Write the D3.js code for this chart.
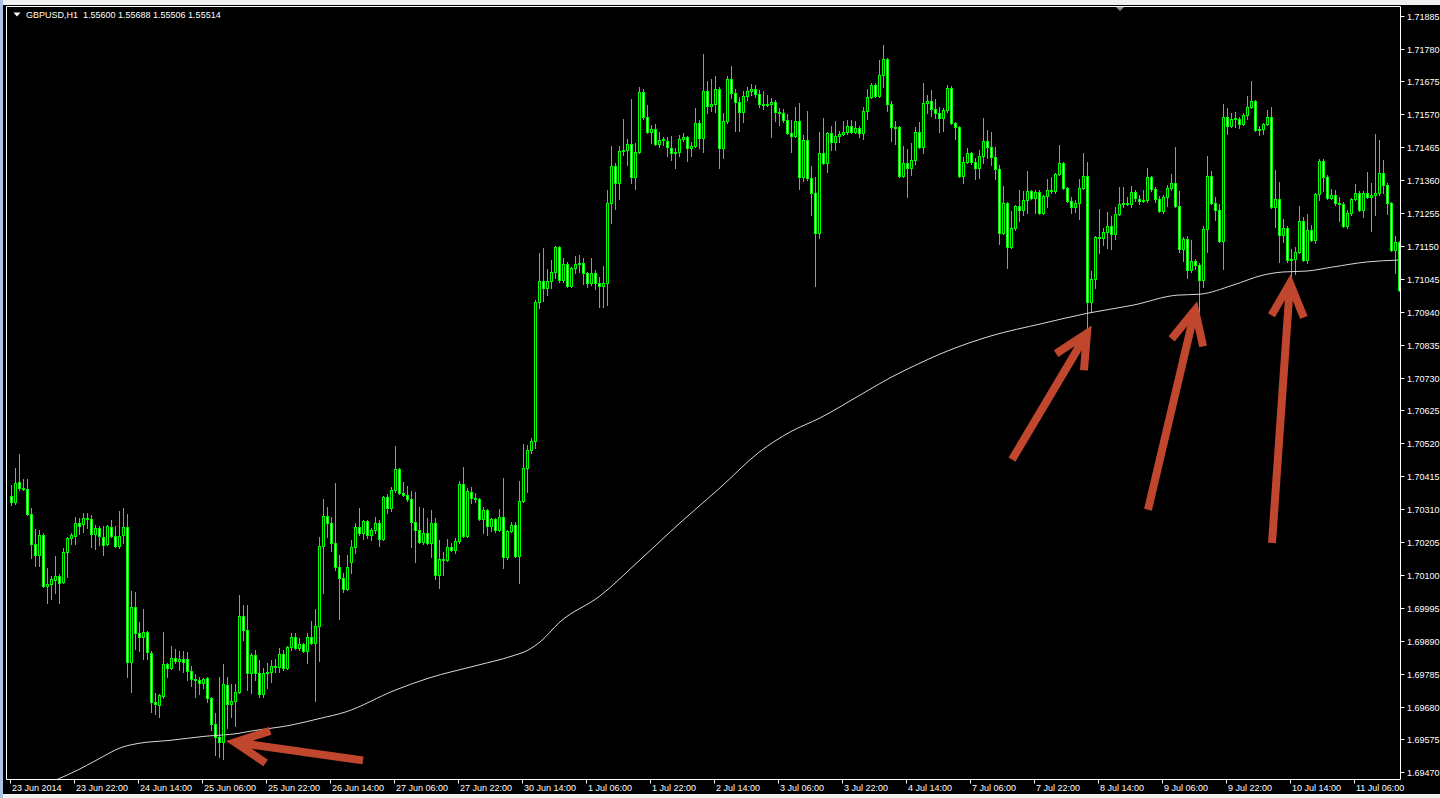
<!DOCTYPE html>
<html><head><meta charset="utf-8">
<script src="https://cdn.jsdelivr.net/npm/d3@7"></script>
<style>
html,body{margin:0;padding:0;background:#f0f0f0;overflow:hidden;}
svg{display:block;}
text{font-family:"Liberation Sans",Arial,sans-serif;font-size:9px;fill:#ffffff;}
</style></head><body>
<svg id="c" width="1440" height="798"></svg>
<script>
const symbolTitle = "GBPUSD,H1  1.55600 1.55688 1.55506 1.55514";

const open = [1.70353,1.70334,1.70398,1.70378,1.70375,1.70295,1.70199,1.70164,1.70228,1.70065,1.70071,1.70084,1.70097,1.70078,1.70174,1.70218,1.70225,1.70266,1.70263,1.70282,1.70279,1.70231,1.70250,1.70222,1.70199,1.70254,1.70225,1.70193,1.70228,1.70254,
1.69822,1.69998,1.69914,1.69902,1.69918,1.69850,1.69694,1.69684,1.69713,1.69815,1.69802,1.69834,1.69825,1.69831,1.69831,1.69793,1.69767,1.69764,1.69754,1.69770,1.69706,1.69623,1.69582,1.69566,1.69748,1.69687,1.69697,1.69726,1.69969,1.69924,
1.69786,1.69844,1.69786,1.69719,1.69786,1.69790,1.69809,1.69806,1.69847,1.69802,1.69870,1.69902,1.69866,1.69879,1.69857,1.69902,1.69882,1.69937,1.70193,1.70289,1.70266,1.70202,1.70126,1.70090,1.70055,1.70142,1.70190,1.70254,1.70234,1.70273,
1.70228,1.70244,1.70266,1.70215,1.70350,1.70314,1.70372,1.70439,1.70362,1.70356,1.70343,1.70270,1.70244,1.70206,1.70234,1.70202,1.70266,1.70100,1.70151,1.70148,1.70190,1.70180,1.70209,1.70391,1.70225,1.70366,1.70346,1.70343,1.70279,1.70308,
1.70257,1.70279,1.70244,1.70286,1.70158,1.70241,1.70260,1.70161,1.70337,1.70442,1.70500,1.70526,1.70971,1.71038,1.71015,1.71038,1.71067,1.71147,1.71041,1.71092,1.71022,1.71079,1.71092,1.71095,1.71063,1.71031,1.71063,1.71031,1.71022,1.71031,
1.71287,1.71406,1.71351,1.71454,1.71457,1.71476,1.71371,1.71451,1.71643,1.71563,1.71515,1.71524,1.71476,1.71489,1.71486,1.71463,1.71447,1.71451,1.71492,1.71499,1.71463,1.71470,1.71543,1.71495,1.71646,1.71598,1.71604,1.71652,1.71463,1.71550,
1.71684,1.71639,1.71611,1.71579,1.71630,1.71646,1.71652,1.71636,1.71604,1.71601,1.71604,1.71611,1.71579,1.71575,1.71553,1.71511,1.71502,1.71550,1.71371,1.71489,1.71367,1.71319,1.71191,1.71447,1.71415,1.71511,1.71483,1.71502,1.71508,1.71515,
1.71534,1.71515,1.71527,1.71511,1.71582,1.71627,1.71665,1.71630,1.71697,1.71748,1.71604,1.71531,1.71531,1.71374,1.71415,1.71399,1.71425,1.71515,1.71467,1.71607,1.71614,1.71588,1.71575,1.71559,1.71585,1.71655,1.71543,1.71531,1.71374,1.71419,
1.71447,1.71419,1.71399,1.71438,1.71486,1.71467,1.71435,1.71396,1.71191,1.71287,1.71147,1.71207,1.71278,1.71265,1.71297,1.71326,1.71303,1.71323,1.71255,1.71310,1.71329,1.71326,1.71380,1.71415,1.71335,1.71294,1.71275,1.71287,1.71335,1.71374,
1.70971,1.71044,1.71179,1.71175,1.71195,1.71214,1.71188,1.71252,1.71284,1.71287,1.71284,1.71323,1.71300,1.71294,1.71297,1.71371,1.71332,1.71300,1.71262,1.71307,1.71335,1.71351,1.71278,1.71140,1.71172,1.71073,1.71102,1.71089,1.71041,1.71204,
1.71374,1.71287,1.71265,1.71166,1.71563,1.71534,1.71556,1.71556,1.71540,1.71569,1.71595,1.71614,1.71521,1.71524,1.71540,1.71563,1.71275,1.71300,1.71185,1.71207,1.71105,1.71108,1.71131,1.71230,1.71105,1.71201,1.71169,1.71316,1.71422,1.71371,
1.71303,1.71313,1.71287,1.71284,1.71214,1.71255,1.71300,1.71319,1.71265,1.71319,1.71307,1.71313,1.71319,1.71383,1.71345,1.71287,1.71137,1.71163];

const high = [1.70388,1.70442,1.70487,1.70407,1.70407,1.70314,1.70247,1.70244,1.70234,1.70122,1.70097,1.70161,1.70103,1.70186,1.70222,1.70234,1.70286,1.70282,1.70298,1.70298,1.70292,1.70260,1.70257,1.70257,1.70260,1.70276,1.70257,1.70305,1.70314,1.70295,
1.70049,1.70046,1.69950,1.69991,1.69921,1.69857,1.69722,1.69719,1.69918,1.69818,1.69873,1.69863,1.69857,1.69857,1.69854,1.69809,1.69783,1.69774,1.69770,1.69774,1.69710,1.69658,1.69774,1.69815,1.69774,1.69751,1.69751,1.70036,1.70004,1.70004,
1.69850,1.69860,1.69828,1.69802,1.69818,1.69828,1.69831,1.69866,1.69860,1.69873,1.69914,1.69914,1.69898,1.69882,1.69914,1.69953,1.69991,1.70222,1.70343,1.70318,1.70286,1.70394,1.70164,1.70106,1.70164,1.70212,1.70266,1.70314,1.70276,1.70276,
1.70250,1.70286,1.70276,1.70353,1.70359,1.70382,1.70510,1.70442,1.70398,1.70385,1.70369,1.70366,1.70318,1.70314,1.70282,1.70308,1.70282,1.70212,1.70174,1.70215,1.70202,1.70218,1.70401,1.70446,1.70378,1.70382,1.70362,1.70346,1.70318,1.70311,
1.70282,1.70282,1.70311,1.70410,1.70244,1.70270,1.70270,1.70401,1.70519,1.70516,1.70538,1.70977,1.71127,1.71143,1.71076,1.71105,1.71150,1.71150,1.71111,1.71099,1.71083,1.71118,1.71121,1.71111,1.71067,1.71111,1.71073,1.71051,1.71086,1.71329,
1.71470,1.71415,1.71470,1.71556,1.71492,1.71620,1.71479,1.71659,1.71652,1.71601,1.71537,1.71540,1.71515,1.71499,1.71499,1.71502,1.71463,1.71505,1.71511,1.71502,1.71483,1.71591,1.71553,1.71764,1.71678,1.71684,1.71694,1.71659,1.71575,1.71691,
1.71726,1.71652,1.71627,1.71646,1.71659,1.71668,1.71665,1.71649,1.71646,1.71633,1.71623,1.71617,1.71591,1.71588,1.71572,1.71553,1.71595,1.71607,1.71505,1.71582,1.71406,1.71371,1.71515,1.71559,1.71515,1.71534,1.71550,1.71518,1.71550,1.71553,
1.71553,1.71550,1.71534,1.71595,1.71652,1.71671,1.71671,1.71745,1.71793,1.71751,1.71614,1.71550,1.71534,1.71470,1.71460,1.71479,1.71531,1.71547,1.71671,1.71633,1.71649,1.71620,1.71595,1.71591,1.71665,1.71662,1.71547,1.71534,1.71435,1.71463,
1.71451,1.71431,1.71457,1.71559,1.71521,1.71515,1.71467,1.71409,1.71342,1.71291,1.71262,1.71281,1.71329,1.71326,1.71390,1.71329,1.71329,1.71329,1.71313,1.71364,1.71371,1.71383,1.71473,1.71419,1.71339,1.71307,1.71297,1.71364,1.71447,1.71419,
1.71070,1.71182,1.71268,1.71207,1.71259,1.71246,1.71275,1.71339,1.71339,1.71307,1.71342,1.71329,1.71313,1.71329,1.71399,1.71374,1.71339,1.71310,1.71313,1.71345,1.71380,1.71467,1.71326,1.71179,1.71182,1.71169,1.71108,1.71095,1.71214,1.71438,
1.71390,1.71307,1.71284,1.71604,1.71591,1.71575,1.71579,1.71563,1.71575,1.71630,1.71678,1.71617,1.71534,1.71543,1.71585,1.71595,1.71393,1.71355,1.71236,1.71214,1.71140,1.71147,1.71278,1.71243,1.71252,1.71217,1.71319,1.71428,1.71428,1.71377,
1.71332,1.71329,1.71307,1.71291,1.71265,1.71303,1.71348,1.71326,1.71326,1.71387,1.71351,1.71508,1.71489,1.71425,1.71351,1.71291,1.71182,1.71166];

const low = [1.70324,1.70327,1.70372,1.70372,1.70292,1.70154,1.70129,1.70129,1.70062,1.70010,1.70023,1.70042,1.70010,1.70074,1.70094,1.70199,1.70199,1.70231,1.70238,1.70250,1.70190,1.70183,1.70196,1.70164,1.70196,1.70222,1.70190,1.70186,1.70202,1.69774,
1.69726,1.69863,1.69857,1.69831,1.69831,1.69662,1.69655,1.69646,1.69706,1.69774,1.69799,1.69818,1.69796,1.69790,1.69764,1.69745,1.69710,1.69719,1.69738,1.69694,1.69604,1.69524,1.69518,1.69511,1.69610,1.69646,1.69617,1.69722,1.69892,1.69732,
1.69722,1.69764,1.69710,1.69710,1.69738,1.69758,1.69790,1.69790,1.69796,1.69799,1.69860,1.69863,1.69860,1.69854,1.69818,1.69879,1.69697,1.69825,1.70042,1.70222,1.70177,1.70116,1.69959,1.70046,1.70052,1.70106,1.70170,1.70228,1.70215,1.70218,
1.70212,1.70234,1.70193,1.70212,1.70298,1.70305,1.70366,1.70359,1.70353,1.70337,1.70190,1.70142,1.70202,1.70199,1.70199,1.70158,1.70087,1.70058,1.70100,1.70145,1.70177,1.70170,1.70202,1.70222,1.70222,1.70330,1.70334,1.70276,1.70234,1.70228,
1.70241,1.70238,1.70241,1.70122,1.70151,1.70238,1.70158,1.70074,1.70334,1.70366,1.70490,1.70506,1.70951,1.70974,1.70993,1.71015,1.71047,1.71035,1.71035,1.71019,1.71019,1.71063,1.71067,1.71028,1.71019,1.71025,1.71012,1.70955,1.70955,1.70961,
1.71223,1.71268,1.71300,1.71441,1.71409,1.71351,1.71332,1.71447,1.71556,1.71511,1.71479,1.71473,1.71467,1.71473,1.71438,1.71425,1.71399,1.71438,1.71486,1.71422,1.71438,1.71467,1.71463,1.71451,1.71575,1.71582,1.71579,1.71399,1.71431,1.71543,
1.71623,1.71518,1.71518,1.71547,1.71617,1.71633,1.71627,1.71595,1.71588,1.71598,1.71499,1.71550,1.71537,1.71547,1.71508,1.71451,1.71499,1.71332,1.71358,1.71361,1.71249,1.71022,1.71175,1.71412,1.71387,1.71457,1.71457,1.71483,1.71505,1.71508,
1.71511,1.71511,1.71499,1.71492,1.71556,1.71623,1.71627,1.71627,1.71659,1.71582,1.71486,1.71476,1.71371,1.71371,1.71307,1.71377,1.71412,1.71463,1.71447,1.71575,1.71566,1.71559,1.71515,1.71518,1.71579,1.71540,1.71492,1.71371,1.71351,1.71415,
1.71412,1.71364,1.71367,1.71415,1.71431,1.71409,1.71364,1.71156,1.71188,1.71079,1.71143,1.71201,1.71230,1.71249,1.71255,1.71300,1.71255,1.71252,1.71252,1.71275,1.71319,1.71319,1.71377,1.71332,1.71291,1.71255,1.71259,1.71236,1.71332,1.70871,
1.70939,1.71015,1.71127,1.71153,1.71143,1.71140,1.71172,1.71249,1.71275,1.71281,1.71275,1.71294,1.71284,1.71291,1.71291,1.71326,1.71291,1.71259,1.71255,1.71278,1.71329,1.71275,1.71131,1.71102,1.71047,1.71067,1.71076,1.70935,1.71019,1.71131,
1.71284,1.71233,1.71163,1.71076,1.71508,1.71531,1.71531,1.71527,1.71537,1.71556,1.71591,1.71518,1.71505,1.71508,1.71537,1.71271,1.71211,1.71099,1.71163,1.71099,1.71041,1.71060,1.71127,1.71102,1.71095,1.71166,1.71159,1.71297,1.71326,1.71300,
1.71300,1.71281,1.71230,1.71211,1.71207,1.71249,1.71297,1.71262,1.71243,1.71303,1.71198,1.71249,1.71313,1.71319,1.71252,1.71134,1.71063,1.71006];

const close = [1.70334,1.70394,1.70378,1.70375,1.70295,1.70199,1.70164,1.70228,1.70065,1.70071,1.70087,1.70097,1.70074,1.70174,1.70218,1.70228,1.70266,1.70257,1.70282,1.70279,1.70231,1.70250,1.70225,1.70196,1.70257,1.70225,1.70193,1.70225,1.70254,1.69822,
1.69998,1.69914,1.69902,1.69918,1.69854,1.69694,1.69687,1.69716,1.69815,1.69802,1.69834,1.69825,1.69831,1.69822,1.69793,1.69767,1.69764,1.69754,1.69767,1.69706,1.69623,1.69582,1.69566,1.69751,1.69687,1.69697,1.69726,1.69969,1.69924,1.69786,
1.69844,1.69786,1.69719,1.69786,1.69790,1.69809,1.69806,1.69847,1.69802,1.69870,1.69902,1.69866,1.69879,1.69857,1.69902,1.69882,1.69937,1.70193,1.70289,1.70266,1.70202,1.70126,1.70090,1.70055,1.70126,1.70190,1.70254,1.70234,1.70273,1.70228,
1.70244,1.70266,1.70215,1.70350,1.70314,1.70372,1.70439,1.70362,1.70356,1.70343,1.70270,1.70244,1.70206,1.70234,1.70202,1.70266,1.70100,1.70151,1.70148,1.70190,1.70180,1.70209,1.70391,1.70225,1.70369,1.70346,1.70343,1.70279,1.70308,1.70257,
1.70279,1.70244,1.70286,1.70158,1.70241,1.70260,1.70161,1.70337,1.70442,1.70500,1.70526,1.70971,1.71038,1.71015,1.71038,1.71067,1.71147,1.71041,1.71092,1.71022,1.71079,1.71092,1.71095,1.71063,1.71031,1.71063,1.71031,1.71022,1.71031,1.71287,
1.71406,1.71351,1.71454,1.71457,1.71476,1.71371,1.71451,1.71643,1.71563,1.71515,1.71524,1.71476,1.71489,1.71492,1.71467,1.71447,1.71451,1.71492,1.71499,1.71463,1.71470,1.71543,1.71495,1.71646,1.71598,1.71604,1.71652,1.71463,1.71550,1.71684,
1.71639,1.71611,1.71579,1.71630,1.71646,1.71652,1.71636,1.71604,1.71601,1.71604,1.71611,1.71579,1.71575,1.71553,1.71511,1.71502,1.71550,1.71371,1.71489,1.71367,1.71319,1.71191,1.71447,1.71415,1.71511,1.71483,1.71502,1.71508,1.71515,1.71534,
1.71515,1.71527,1.71511,1.71582,1.71627,1.71665,1.71630,1.71697,1.71748,1.71604,1.71531,1.71527,1.71374,1.71415,1.71399,1.71425,1.71515,1.71467,1.71607,1.71614,1.71588,1.71575,1.71559,1.71585,1.71655,1.71543,1.71531,1.71374,1.71419,1.71447,
1.71419,1.71399,1.71438,1.71486,1.71467,1.71435,1.71396,1.71191,1.71287,1.71147,1.71207,1.71278,1.71265,1.71297,1.71326,1.71303,1.71323,1.71255,1.71310,1.71329,1.71326,1.71380,1.71415,1.71335,1.71294,1.71275,1.71287,1.71335,1.71374,1.70971,
1.71044,1.71179,1.71175,1.71195,1.71214,1.71188,1.71252,1.71284,1.71287,1.71284,1.71323,1.71303,1.71294,1.71297,1.71371,1.71332,1.71300,1.71262,1.71307,1.71335,1.71351,1.71278,1.71140,1.71172,1.71073,1.71102,1.71089,1.71041,1.71204,1.71374,
1.71287,1.71265,1.71166,1.71563,1.71534,1.71556,1.71559,1.71540,1.71569,1.71595,1.71614,1.71521,1.71524,1.71540,1.71563,1.71275,1.71300,1.71185,1.71207,1.71105,1.71108,1.71131,1.71230,1.71105,1.71201,1.71169,1.71316,1.71422,1.71371,1.71303,
1.71313,1.71287,1.71284,1.71214,1.71255,1.71300,1.71319,1.71265,1.71319,1.71307,1.71313,1.71319,1.71383,1.71345,1.71287,1.71137,1.71163,1.71009];

// x-axis labels, one every 16 hourly bars
const xTickLabels = ["23 Jun 2014","23 Jun 22:00","24 Jun 14:00","25 Jun 06:00","25 Jun 22:00","26 Jun 14:00","27 Jun 06:00","27 Jun 22:00","30 Jun 14:00","1 Jul 06:00","1 Jul 22:00","2 Jul 14:00","3 Jul 06:00","3 Jul 22:00","4 Jul 14:00","7 Jul 06:00","7 Jul 22:00","8 Jul 14:00","9 Jul 06:00","9 Jul 22:00","10 Jul 14:00","11 Jul 06:00"];
const xTickEvery = 16;

const yTicks = [1.71885,1.71780,1.71675,1.71570,1.71465,1.71360,1.71255,1.71150,1.71045,1.70940,1.70835,1.70730,1.70625,1.70520,1.70415,1.70310,1.70205,1.70100,1.69995,1.69890,1.69785,1.69680,1.69575,1.69470];

// moving average line (bar index, value)
const maBar = [11.75,16.75,21.5,28,32,40,48.75,57,60,70,77.5,83.75,96.25,104.5,117,125.5,129.5,132.5,137.5,147.5,157.5,167.5,177.5,187.5,195,202.5,212.5,220,225,235,245,258.25,269.25,280.75,291.75,297.5,305.75,313.25,318.25,324.25,330.75,339.25,347];
const maValue = [1.69447,1.69476,1.69508,1.69550,1.69562,1.69572,1.69585,1.69594,1.69601,1.69620,1.69642,1.69662,1.69732,1.69770,1.69812,1.69841,1.69860,1.69886,1.69950,1.70033,1.70148,1.70266,1.70378,1.70494,1.70556,1.70601,1.70674,1.70729,1.70761,1.70818,1.70862,1.70903,1.70935,1.70961,1.70993,1.70996,1.71025,1.71057,1.71067,1.71070,1.71083,1.71099,1.71105];

// annotation arrows (bar index, price)
const arrowTip  = [[56.25,1.69566],[269.25,1.70871],[296.25,1.70945],[320,1.71031]];
const arrowTail = [[88.25,1.69508],[250.5,1.70468],[284.5,1.70308],[315.5,1.70202]];

// ---------------- drawing ----------------
const svg = d3.select("#c");
const P = {left:6.5, right:1400.5, top:6.5, bottom:779.5};
const x = d3.scaleLinear().domain([0, open.length - 1]).range([10, 1398]);
const y = d3.scaleLinear().domain([1.69470, 1.71885]).range([772.3, 15.7]);

svg.append("rect").attr("x",0).attr("y",0).attr("width",1440).attr("height",798).attr("fill","#f0f0f0");
svg.append("rect").attr("x",0).attr("y",0).attr("width",3).attr("height",798).attr("fill","#a9c4e4");
svg.append("rect").attr("x",3).attr("y",5).attr("width",1437).attr("height",789).attr("fill","#000");

svg.append("defs").append("clipPath").attr("id","plotclip")
  .append("rect").attr("x",P.left+0.5).attr("y",P.top+0.5).attr("width",P.right-P.left-1).attr("height",P.bottom-P.top-1);

const plot = svg.append("g").attr("clip-path","url(#plotclip)");

// candles
const bars = d3.range(open.length).map(i => ({i, o:open[i], h:Math.max(high[i],open[i],close[i]), l:Math.min(low[i],open[i],close[i]), c:close[i]}));
const cg = plot.append("g");
bars.forEach(d => {
  const cx = Math.round(x(d.i));
  const yh = Math.round(y(d.h)), yl = Math.round(y(d.l));
  cg.append("line").attr("x1",cx+1.5).attr("x2",cx+1.5).attr("y1",yh).attr("y2",yl+1)
    .attr("stroke","#00ff00").attr("stroke-width",1);
  const yt = Math.round(y(Math.max(d.o,d.c))), yb = Math.round(y(Math.min(d.o,d.c)));
  if (yb - yt < 1) {
    cg.append("line").attr("x1",cx).attr("x2",cx+3).attr("y1",yt+0.5).attr("y2",yt+0.5)
      .attr("stroke","#00ff00").attr("stroke-width",1);
  } else {
    cg.append("rect").attr("x",cx+0.5).attr("y",yt+0.5).attr("width",2).attr("height",yb-yt)
      .attr("fill", d.c < d.o ? "#ffffff" : "#000000")
      .attr("stroke","#00ff00").attr("stroke-width",1);
  }
});

// moving average
const maLine = d3.line().x(d => x(d[0])).y(d => y(d[1])).curve(d3.curveMonotoneX);
plot.append("path").datum(maBar.map((b,k) => [b, maValue[k]]))
  .attr("d", maLine).attr("fill","none").attr("stroke","#d8d8d8").attr("stroke-width",1);

// frame
svg.append("path").attr("d",`M${P.left},${P.bottom}V${P.top}H${P.right}V${P.bottom}H${P.left}`)
  .attr("fill","none").attr("stroke","#ffffff").attr("stroke-width",1);

// y axis
const yg = svg.append("g");
yTicks.forEach(t => {
  const yy = Math.round(y(t));
  yg.append("line").attr("x1",P.right).attr("x2",P.right+4).attr("y1",yy+0.5).attr("y2",yy+0.5)
    .attr("stroke","#ffffff").attr("stroke-width",1);
  yg.append("text").attr("x",1407).attr("y",yy+3.5).text(t.toFixed(5));
});

// x axis
const xg = svg.append("g");
xTickLabels.forEach((lab,k) => {
  const tx = Math.round(x(k * xTickEvery));
  xg.append("line").attr("x1",tx+0.5).attr("x2",tx+0.5).attr("y1",P.bottom).attr("y2",P.bottom+4)
    .attr("stroke","#ffffff").attr("stroke-width",1);
  xg.append("text").attr("x",tx+2).attr("y",791).text(lab);
});

// header
svg.append("path").attr("d","M13.5,12.5H20.5L17,16.5Z").attr("fill","#ffffff");
svg.append("text").attr("x",26).attr("y",18).style("white-space","pre").text(symbolTitle);
// chart shift marker
svg.append("path").attr("d","M1116,7H1124L1120,11Z").attr("fill","#909090");

// arrows
const ag = svg.append("g").attr("fill","none").attr("stroke","#c1462e").attr("stroke-width",8);
arrowTip.forEach((tp,k) => {
  const tip = [x(tp[0]), y(tp[1])];
  const tail = [x(arrowTail[k][0]), y(arrowTail[k][1])];
  const back = Math.atan2(tail[1]-tip[1], tail[0]-tip[0]);
  const spread = 26*Math.PI/180, len = 37;
  const b1 = [tip[0]+len*Math.cos(back+spread), tip[1]+len*Math.sin(back+spread)];
  const b2 = [tip[0]+len*Math.cos(back-spread), tip[1]+len*Math.sin(back-spread)];
  ag.append("path").attr("d",`M${tail[0]},${tail[1]}L${tip[0]},${tip[1]}`).attr("stroke-linecap","butt");
  ag.append("path").attr("d",`M${b1[0]},${b1[1]}L${tip[0]},${tip[1]}L${b2[0]},${b2[1]}`)
    .attr("stroke-linejoin","miter").attr("stroke-miterlimit",4);
});
</script>
</body></html>
